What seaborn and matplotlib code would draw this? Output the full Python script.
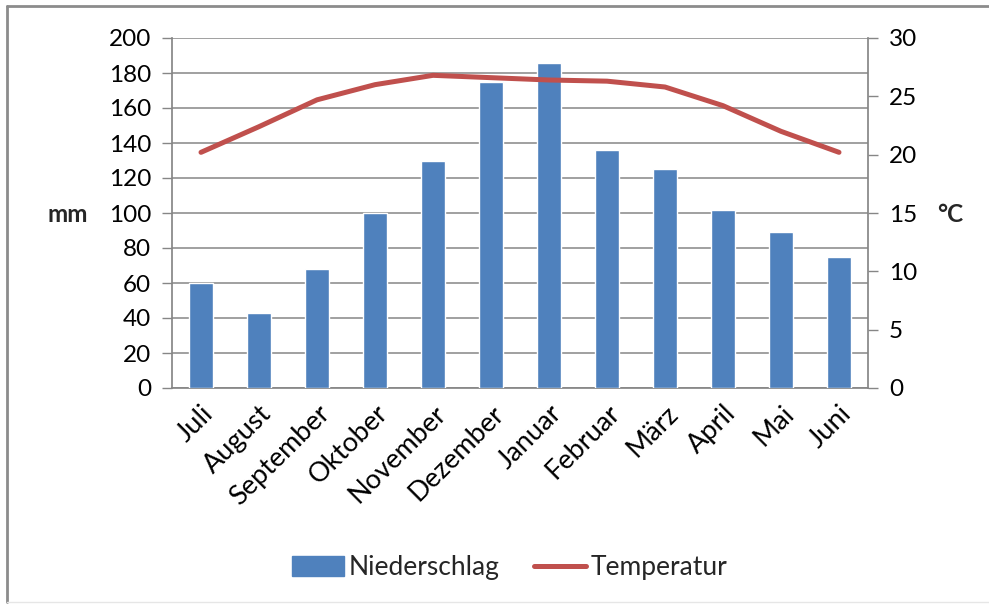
import numpy as np
import pandas as pd
import matplotlib
matplotlib.use("Agg")
import matplotlib.pyplot as plt
from matplotlib.lines import Line2D
from matplotlib.patches import Patch
from matplotlib.ticker import MultipleLocator
import seaborn as sns

# Monthly climate data (hydrological year, July to June)
months = ["Juli", "August", "September", "Oktober", "November", "Dezember",
          "Januar", "Februar", "März", "April", "Mai", "Juni"]
niederschlag_mm = [60, 43, 68, 100, 130, 175, 186, 136, 125, 102, 89, 75]
temperatur_c = [20.2, 22.4, 24.7, 26.0, 26.8, 26.6, 26.4, 26.3, 25.8, 24.2, 22.0, 20.2]

bar_color = "#4F81BD"
line_color = "#C0504D"
grid_color = "#868686"

sns.set_theme(style="white")
plt.rcParams["font.family"] = ["Lato", "DejaVu Sans"]

df = pd.DataFrame({"Monat": months, "Niederschlag": niederschlag_mm,
                   "Temperatur": temperatur_c, "pos": np.arange(len(months))})

fig = plt.figure(figsize=(9.89, 6.05), dpi=100)
ax = fig.add_axes([172 / 989, 1 - 388 / 605, (868 - 172) / 989, (388 - 38) / 605])

sns.barplot(data=df, x="Monat", y="Niederschlag", color=bar_color, width=0.4,
            saturation=1, ax=ax, zorder=3)
ax.set_xlim(-0.5, len(months) - 0.5)
ax.set_ylim(0, 200)
ax.yaxis.set_major_locator(MultipleLocator(20))
ax.yaxis.grid(True, color=grid_color, linewidth=1.1, zorder=0)
ax.set_axisbelow(True)

ax2 = ax.twinx()
sns.lineplot(data=df, x="pos", y="Temperatur", color=line_color, linewidth=3.6,
             ax=ax2, zorder=4, legend=False)
ax2.set_ylim(0, 30)
ax2.yaxis.set_major_locator(MultipleLocator(5))
ax2.set_xlim(-0.5, len(months) - 0.5)

for a in (ax, ax2):
    a.set_xlabel("")
    a.set_ylabel("")
    for s in ("top", "right", "left", "bottom"):
        a.spines[s].set_visible(False)

ax.spines["left"].set_visible(True)
ax.spines["left"].set_color(grid_color)
ax.spines["bottom"].set_visible(True)
ax.spines["bottom"].set_color(grid_color)
ax2.spines["right"].set_visible(True)
ax2.spines["right"].set_color(grid_color)

# category separators as tick marks below the x axis
ax.set_xticks(np.arange(len(months)))
ax.set_xticklabels(months, rotation=45, ha="right", rotation_mode="anchor",
                   fontsize=19.5, color="#000000")
ax.set_xticks(np.arange(-0.5, len(months)), minor=True)
ax.tick_params(axis="x", which="major", length=0, pad=9)
ax.tick_params(axis="x", which="minor", length=7, color=grid_color, width=1, direction="out")
ax.tick_params(axis="y", length=7, color=grid_color, width=1, direction="out",
               labelsize=17.5, pad=8, labelcolor="#000000", left=True)
ax2.tick_params(axis="y", length=7, color=grid_color, width=1, direction="out",
                labelsize=17.5, pad=8, labelcolor="#000000", right=True)
ax.zorder = ax2.zorder - 1
ax2.patch.set_visible(False)
ax.patch.set_visible(False)

fig.text(68 / 989, 1 - 215 / 605, "mm", fontsize=17.5, fontweight="bold",
         ha="center", va="center")
fig.text(950 / 989, 1 - 215 / 605, "°C", fontsize=17.5, fontweight="bold",
         ha="center", va="center")

handles = [Patch(facecolor=bar_color, edgecolor=bar_color, label="Niederschlag"),
           Line2D([0], [0], color=line_color, linewidth=3.6, label="Temperatur")]
fig.legend(handles=handles, loc="center", bbox_to_anchor=(510 / 989, 1 - 568 / 605),
           ncol=2, frameon=False, fontsize=19, handlelength=1.95, handleheight=0.8,
           handletextpad=0.2, columnspacing=1.3)

# outer chart frame
fig.add_artist(Line2D([7 / 989, 7 / 989], [0.005, 1 - 6 / 605], transform=fig.transFigure,
                      color="#8c8c8c", linewidth=2))
fig.add_artist(Line2D([7 / 989, 1.0], [1 - 6 / 605, 1 - 6 / 605], transform=fig.transFigure,
                      color="#8c8c8c", linewidth=2))
fig.add_artist(Line2D([7 / 989, 1.0], [0.005, 0.005], transform=fig.transFigure,
                      color="#e6e6e6", linewidth=1))

fig.savefig("out.png", dpi=100, facecolor="white")
